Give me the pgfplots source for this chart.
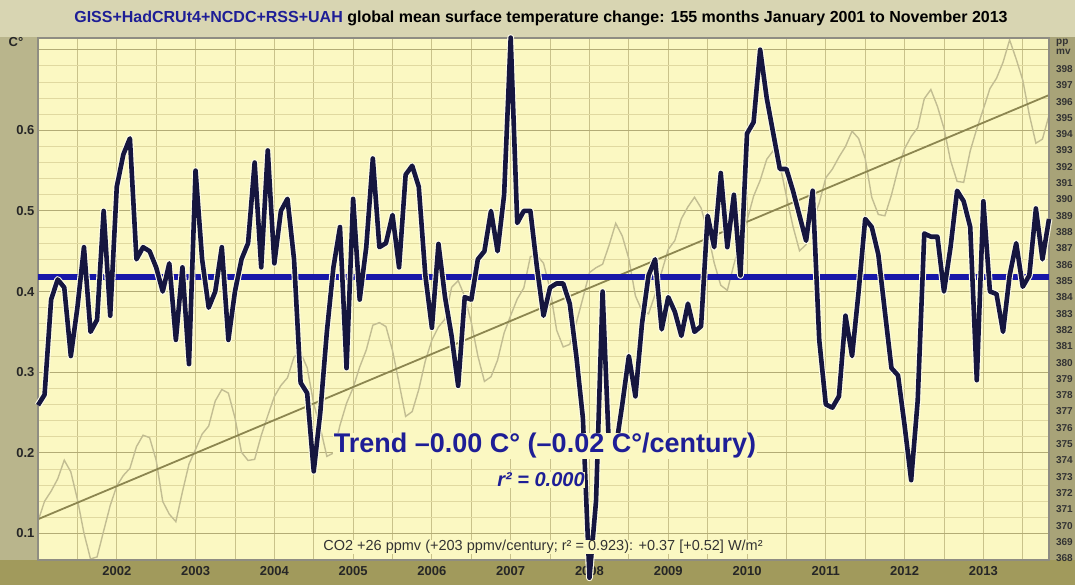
\documentclass[border=0pt]{standalone}
\usepackage{fontspec}
\setmainfont{Liberation Sans}
\usepackage{pgfplots}
\pgfplotsset{compat=1.18}
\usepackage{pgfplotstable}

\definecolor{plotbg}{HTML}{FBF8C2}
\definecolor{gridminor}{HTML}{E0D9A0}
\definecolor{gridmajor}{HTML}{B3AC76}
\definecolor{gridvert}{HTML}{C9C28A}
\definecolor{frameol}{HTML}{A9A476}
\definecolor{titleband}{HTML}{D8D5B2}
\definecolor{leftband}{HTML}{B9B58C}
\definecolor{rightband}{HTML}{A8A378}
\definecolor{yearband}{HTML}{A19A5C}
\definecolor{templine}{HTML}{16163F}
\definecolor{trendblue}{HTML}{1818A8}
\definecolor{textblue}{HTML}{1E1E96}
\definecolor{co2thin}{HTML}{C2BD92}
\definecolor{co2trend}{HTML}{8C8650}
\definecolor{framegrey}{HTML}{8F8D82}

% month index (0 = Jan 2001), temperature anomaly (C), CO2 (ppmv)
\pgfplotstableread{
m t co2
0 0.259 370.28
1 0.272 371.50
2 0.390 372.12
3 0.415 372.87
4 0.405 374.02
5 0.320 373.30
6 0.380 371.62
7 0.455 369.55
8 0.350 367.96
9 0.365 368.09
10 0.500 369.68
11 0.370 371.24
12 0.530 372.44
13 0.570 373.08
14 0.590 373.52
15 0.440 374.85
16 0.455 375.55
17 0.450 375.40
18 0.430 374.02
19 0.400 371.49
20 0.435 370.71
21 0.340 370.25
22 0.430 372.08
23 0.310 373.78
24 0.550 374.68
25 0.440 375.62
26 0.380 376.11
27 0.400 377.65
28 0.455 378.35
29 0.340 378.13
30 0.400 376.62
31 0.440 374.50
32 0.460 374.00
33 0.560 374.07
34 0.430 375.53
35 0.575 376.75
36 0.435 377.92
37 0.500 378.60
38 0.515 379.07
39 0.440 380.35
40 0.287 380.62
41 0.274 379.69
42 0.177 377.47
43 0.250 376.01
44 0.350 374.25
45 0.430 374.46
46 0.480 376.16
47 0.305 377.51
48 0.515 378.46
49 0.390 379.73
50 0.455 380.77
51 0.565 382.29
52 0.455 382.45
53 0.460 382.21
54 0.495 380.74
55 0.430 378.74
56 0.545 376.70
57 0.556 377.00
58 0.530 378.35
59 0.420 380.11
60 0.355 381.38
61 0.459 382.19
62 0.393 382.67
63 0.345 384.61
64 0.283 385.03
65 0.393 384.05
66 0.390 382.46
67 0.440 380.41
68 0.450 378.85
69 0.500 379.13
70 0.450 380.15
71 0.520 381.82
72 0.715 382.89
73 0.485 383.90
74 0.500 384.58
75 0.500 386.50
76 0.430 386.56
77 0.370 386.10
78 0.405 384.50
79 0.410 381.99
80 0.410 380.96
81 0.385 381.12
82 0.320 382.45
83 0.243 383.95
84 0.045 385.52
85 0.140 385.82
86 0.400 386.03
87 0.200 387.21
88 0.205 388.54
89 0.260 387.76
90 0.320 386.36
91 0.270 384.09
92 0.360 383.18
93 0.420 382.99
94 0.440 384.19
95 0.353 385.56
96 0.393 386.94
97 0.375 387.48
98 0.345 388.82
99 0.385 389.55
100 0.350 390.14
101 0.357 389.48
102 0.494 388.03
103 0.455 386.11
104 0.547 384.74
105 0.455 384.43
106 0.520 386.02
107 0.420 387.42
108 0.596 388.71
109 0.610 390.20
110 0.700 391.17
111 0.640 392.46
112 0.596 393.00
113 0.552 392.15
114 0.552 390.20
115 0.525 388.35
116 0.494 386.85
117 0.463 387.24
118 0.525 388.67
119 0.340 389.79
120 0.260 391.33
121 0.256 391.86
122 0.270 392.60
123 0.370 393.25
124 0.320 394.19
125 0.400 393.74
126 0.490 392.51
127 0.480 390.13
128 0.446 389.08
129 0.375 389.00
130 0.305 390.28
131 0.296 391.86
132 0.234 393.12
133 0.166 393.86
134 0.265 394.40
135 0.472 396.18
136 0.468 396.74
137 0.468 395.71
138 0.400 394.36
139 0.455 392.39
140 0.525 391.11
141 0.512 391.05
142 0.480 392.98
143 0.290 394.34
144 0.512 395.55
145 0.400 396.80
146 0.397 397.43
147 0.350 398.41
148 0.420 399.78
149 0.460 398.61
150 0.406 397.32
151 0.420 395.20
152 0.503 393.45
153 0.440 393.70
154 0.490 395.16
}\monthly

\pgfplotsset{
  base/.style={
    at={(38pt,25pt)}, anchor=south west,
    scale only axis, width=1011pt, height=522pt,
    xmin=0, xmax=154,
    tick style={draw=none}, major tick length=0pt, minor tick length=0pt,
  },
  tempscale/.style={ymin=0.067, ymax=0.7145},
}

\begin{document}
\begin{tikzpicture}[x=1pt,y=1pt]
\useasboundingbox (0,0) rectangle (1075,585);
\clip (0,0) rectangle (1075,585);
\fill[frameol] (0,0) rectangle (1075,585);
\fill[titleband] (0,548) rectangle (1075,585);
\fill[leftband] (0,25) rectangle (37,548);
\fill[rightband] (1050,25) rectangle (1075,548);
\fill[yearband] (0,0) rectangle (1075,25);

% background, grid and temperature tick labels
\begin{axis}[base, tempscale,
  axis background/.style={fill=plotbg},
  axis line style={draw=none},
  xtick={12,24,...,144},
  xticklabels={2002,2003,2004,2005,2006,2007,2008,2009,2010,2011,2012,2013},
  minor xtick={6,18,...,150},
  ytick={0.1,0.2,0.3,0.4,0.5,0.6,0.7},
  yticklabels={0.1,0.2,0.3,0.4,0.5,0.6,{}},
  minor y tick num=4,
  grid=both,
  major x grid style={gridvert, line width=0.9pt},
  minor x grid style={gridvert, line width=0.9pt},
  major y grid style={gridmajor, line width=0.9pt},
  minor y grid style={gridminor, line width=0.7pt},
  ticklabel style={font=\bfseries\fontsize{13}{13}\selectfont, text=black!85},
  xticklabel style={yshift=-3pt},
]
\addplot[draw=none] coordinates {(0,0.4) (154,0.4)};
\end{axis}

% CO2 on the right-hand scale
\begin{axis}[base, ymin=367.9, ymax=399.9,
  hide x axis, axis y line*=right, y axis line style={draw=none},
  ytick={368,369,...,398},
  /pgf/number format/assume math mode=true,
  ticklabel style={font=\bfseries\fontsize{10}{10}\selectfont, text=black!80},
  y tick label style={anchor=west, xshift=3.5pt},
]
\addplot[co2thin, line width=1.4pt] table[x=m, y=co2] {\monthly};
\addplot[co2trend, line width=1.8pt] coordinates {(0,370.4) (154,396.4)};
\end{axis}

% temperature series and its trend
\begin{axis}[base, tempscale, clip=false,
  xtick=\empty, ytick=\empty,
  axis line style={draw=framegrey, line width=2pt},
]
\addplot[trendblue, line width=5.5pt] coordinates {(0,0.418) (154,0.418)};
\addplot[white!60!plotbg, line width=6.8pt, line join=round] table[x=m, y=t] {\monthly};
\addplot[templine, line width=4.6pt, line join=round] table[x=m, y=t] {\monthly};
\end{axis}

\node[fill=plotbg, inner sep=0.5pt, text=textblue, font=\bfseries\fontsize{27}{27}\selectfont]
  at (545,139) {Trend –0.00 C° (–0.02 C°/century)};
\node[fill=plotbg, inner sep=0.5pt, text=textblue, font=\bfseries\itshape\fontsize{20}{20}\selectfont]
  at (541,105) {r² = 0.000};
\node[fill=plotbg, inner sep=0.5pt, text=black!80, font=\fontsize{14.5}{14.5}\selectfont]
  at (543,38) {CO2 +26 ppmv (+203 ppmv/century; r² = 0.923): +0.37 [+0.52] W/m²};

\node[font=\bfseries\fontsize{16}{16}\selectfont] at (541,567)
  {\textcolor{textblue}{GISS+HadCRUt4+NCDC+RSS+UAH} global mean surface temperature change: 155 months January 2001 to November 2013};
\node[font=\bfseries\fontsize{13}{13}\selectfont, text=black!85] at (16,543) {C°};
\node[font=\bfseries\fontsize{10}{10}\selectfont, text=black!80, anchor=north west, align=left, inner sep=0pt]
  at (1056,546) {pp\\mv};
\end{tikzpicture}
\end{document}
